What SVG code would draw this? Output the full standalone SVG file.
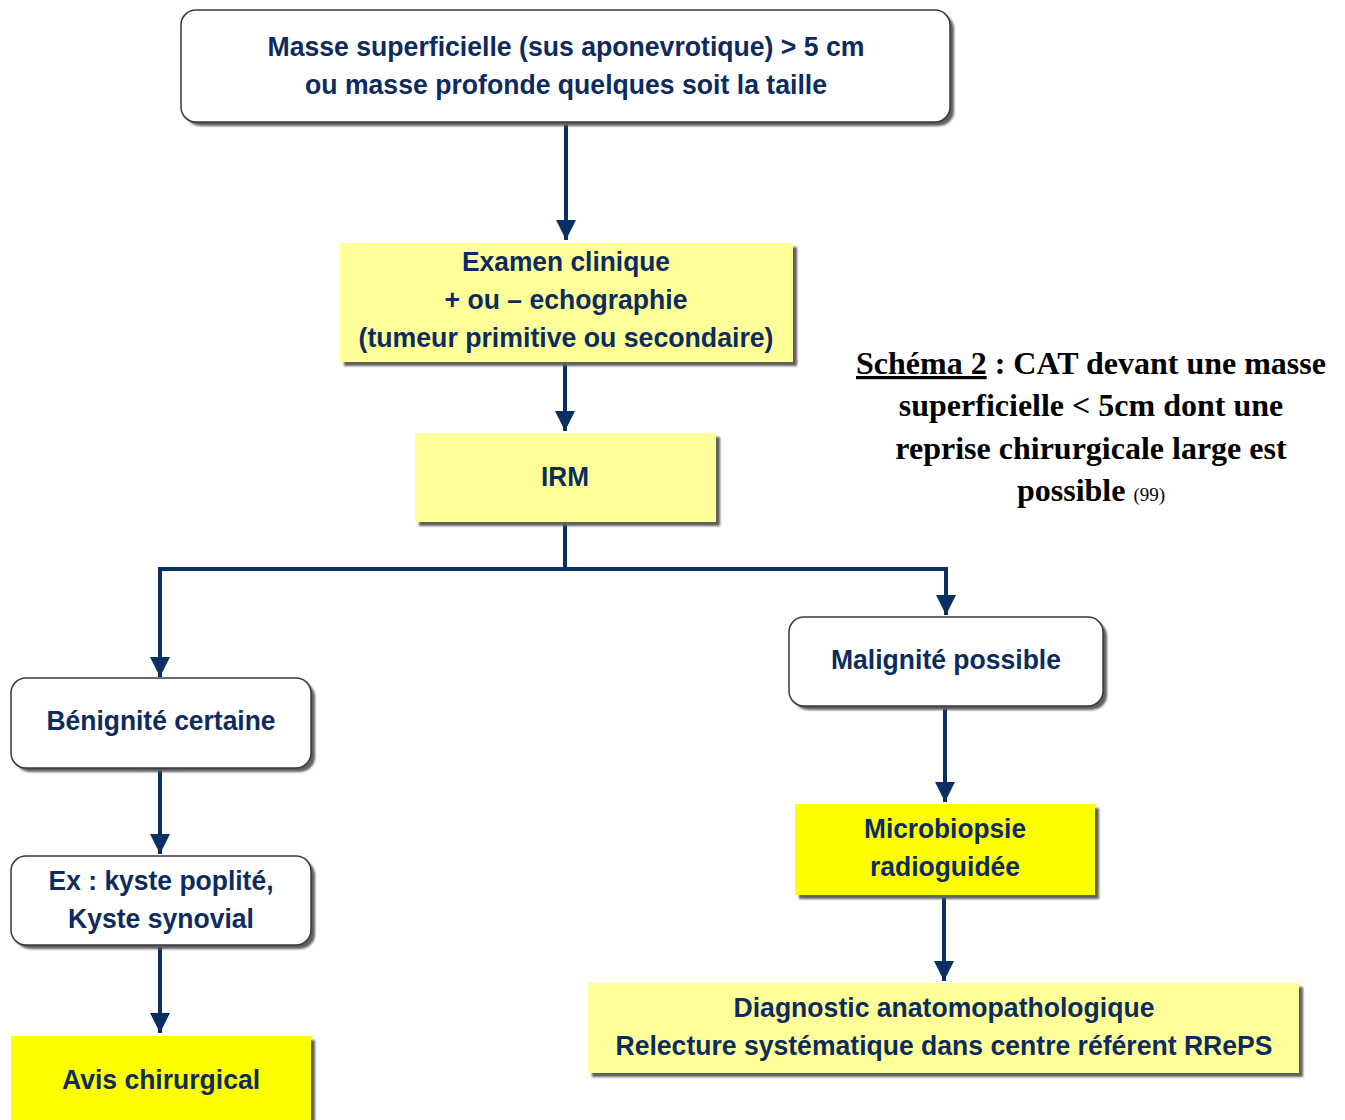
<svg xmlns="http://www.w3.org/2000/svg" width="1345" height="1120" viewBox="0 0 1345 1120">
  <defs>
    <marker id="arrow" viewBox="0 0 10 10" refX="10" refY="5" markerWidth="5" markerHeight="5" markerUnits="strokeWidth" orient="auto">
      <path d="M0,0 L10,5 L0,10 z" fill="#0b2f63"/>
    </marker>
    <filter id="soft" x="-5%" y="-5%" width="110%" height="120%">
      <feGaussianBlur stdDeviation="0.8"/>
    </filter>
  </defs>
  <style>
    .shadow { fill: #5f5f5f; filter: url(#soft); }
    .white { fill: #ffffff; stroke: #3a3a3a; stroke-width: 1.5; }
    .pale { fill: #ffff99; }
    .bright { fill: #ffff00; }
    .lbl { font-family: "Liberation Sans", Arial, sans-serif; font-weight: bold; font-size: 27px; fill: #0d2b5e; text-anchor: middle; }
    .conn { fill: none; stroke: #0b2f63; stroke-width: 4; }
    .cap { font-family: "Liberation Serif", "Times New Roman", serif; font-weight: bold; font-size: 32px; fill: #000; text-anchor: middle; }
  </style>

  <rect width="1345" height="1120" fill="#ffffff"/>

  <g id="connectors">
    <path class="conn" d="M566,122 V240" marker-end="url(#arrow)"/>
    <path class="conn" d="M565,362 V431" marker-end="url(#arrow)"/>
    <path class="conn" d="M565,522 V569 H160 V677"/>
    <path class="conn" d="M565,569 H946 V615" marker-end="url(#arrow)"/>
    <path class="conn" d="M160,600 V677" marker-end="url(#arrow)"/>
    <path class="conn" d="M160,768 V854" marker-end="url(#arrow)"/>
    <path class="conn" d="M160,945 V1033" marker-end="url(#arrow)"/>
    <path class="conn" d="M945,706 V802" marker-end="url(#arrow)"/>
    <path class="conn" d="M944,895 V981" marker-end="url(#arrow)"/>
  </g>

  <g id="node-masse">
    <rect class="shadow" x="185" y="14" width="769" height="112" rx="15"/>
    <rect class="white" x="181" y="10" width="769" height="112" rx="15"/>
    <text class="lbl" x="566" y="56" textLength="597" lengthAdjust="spacingAndGlyphs">Masse superficielle (sus aponevrotique) &gt; 5 cm</text>
    <text class="lbl" x="566" y="94" textLength="522" lengthAdjust="spacingAndGlyphs">ou masse profonde quelques soit la taille</text>
  </g>

  <g id="node-examen">
    <rect class="shadow" x="344" y="247" width="453" height="119"/>
    <rect class="pale" x="340" y="243" width="453" height="119"/>
    <text class="lbl" x="566" y="271" textLength="208" lengthAdjust="spacingAndGlyphs">Examen clinique</text>
    <text class="lbl" x="566" y="309" textLength="243" lengthAdjust="spacingAndGlyphs">+ ou – echographie</text>
    <text class="lbl" x="566" y="347" textLength="415" lengthAdjust="spacingAndGlyphs">(tumeur primitive ou secondaire)</text>
  </g>

  <g id="node-irm">
    <rect class="shadow" x="419" y="437" width="301" height="89"/>
    <rect class="pale" x="415" y="433" width="301" height="89"/>
    <text class="lbl" x="565" y="486" textLength="48" lengthAdjust="spacingAndGlyphs">IRM</text>
  </g>

  <g id="node-benignite">
    <rect class="shadow" x="15" y="682" width="300" height="90" rx="15"/>
    <rect class="white" x="11" y="678" width="300" height="90" rx="15"/>
    <text class="lbl" x="161" y="730" textLength="229" lengthAdjust="spacingAndGlyphs">Bénignité certaine</text>
  </g>

  <g id="node-kyste">
    <rect class="shadow" x="15" y="860" width="300" height="89" rx="15"/>
    <rect class="white" x="11" y="856" width="300" height="89" rx="15"/>
    <text class="lbl" x="161" y="890" textLength="225" lengthAdjust="spacingAndGlyphs">Ex : kyste poplité,</text>
    <text class="lbl" x="161" y="928" textLength="186" lengthAdjust="spacingAndGlyphs">Kyste synovial</text>
  </g>

  <g id="node-avis">
    <rect class="shadow" x="15" y="1040" width="300" height="90"/>
    <rect class="bright" x="11" y="1036" width="300" height="90"/>
    <text class="lbl" x="161" y="1089" textLength="198" lengthAdjust="spacingAndGlyphs">Avis chirurgical</text>
  </g>

  <g id="node-malignite">
    <rect class="shadow" x="793" y="621" width="314" height="89" rx="15"/>
    <rect class="white" x="789" y="617" width="314" height="89" rx="15"/>
    <text class="lbl" x="946" y="669" textLength="230" lengthAdjust="spacingAndGlyphs">Malignité possible</text>
  </g>

  <g id="node-microbiopsie">
    <rect class="shadow" x="799" y="808" width="300" height="91"/>
    <rect class="bright" x="795" y="804" width="300" height="91"/>
    <text class="lbl" x="945" y="838" textLength="162" lengthAdjust="spacingAndGlyphs">Microbiopsie</text>
    <text class="lbl" x="945" y="876" textLength="150" lengthAdjust="spacingAndGlyphs">radioguidée</text>
  </g>

  <g id="node-diagnostic">
    <rect class="shadow" x="592" y="987" width="711" height="90"/>
    <rect class="pale" x="588" y="983" width="711" height="90"/>
    <text class="lbl" x="944" y="1017" textLength="421" lengthAdjust="spacingAndGlyphs">Diagnostic anatomopathologique</text>
    <text class="lbl" x="944" y="1055" textLength="657" lengthAdjust="spacingAndGlyphs">Relecture systématique dans centre référent RRePS</text>
  </g>

  <g id="caption">
    <text class="cap" x="1091" y="374"><tspan text-decoration="underline">Schéma 2</tspan> : CAT devant une masse</text>
    <text class="cap" x="1091" y="416">superficielle &lt; 5cm dont une</text>
    <text class="cap" x="1091" y="459">reprise chirurgicale large est</text>
    <text class="cap" x="1091" y="501">possible <tspan font-weight="normal" font-size="19px">(99)</tspan></text>
  </g>
</svg>
